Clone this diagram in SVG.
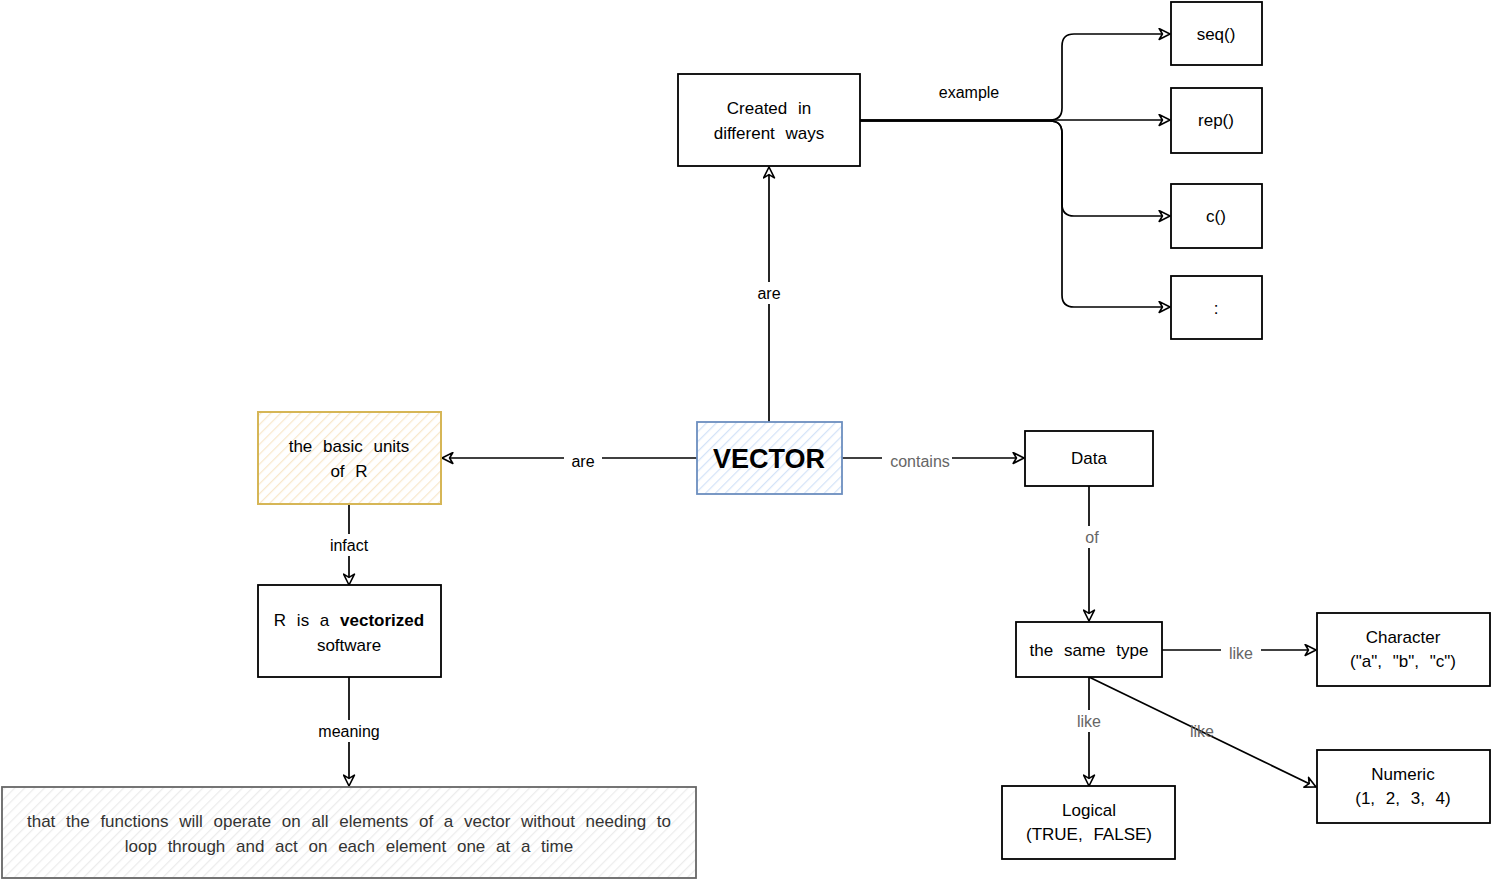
<svg xmlns="http://www.w3.org/2000/svg" width="1493" height="883" viewBox="0 0 1493 883">
<defs>
<style>
.t{font-family:"Liberation Sans",Arial,sans-serif;font-size:17px;fill:#000;text-anchor:middle;word-spacing:6px}
.lbl{font-family:"Liberation Sans",Arial,sans-serif;font-size:16px;fill:#000;text-anchor:middle}
.g{fill:#666}
.box{fill:#fff;stroke:#000;stroke-width:1.8}
.c{fill:none;stroke:#000;stroke-width:1.7}
.lb{fill:#fff}
</style>
<pattern id="hb" width="7" height="7" patternUnits="userSpaceOnUse" patternTransform="rotate(45)">
<rect width="7" height="7" fill="#fff"/><line x1="0" y1="0" x2="0" y2="7" stroke="#d4e3f8" stroke-width="2.5"/>
</pattern>
<pattern id="hy" width="7" height="7" patternUnits="userSpaceOnUse" patternTransform="rotate(45)">
<rect width="7" height="7" fill="#fff"/><line x1="0" y1="0" x2="0" y2="7" stroke="#f8e8cc" stroke-width="2.5"/>
</pattern>
<pattern id="hg" width="7" height="7" patternUnits="userSpaceOnUse" patternTransform="rotate(45)">
<rect width="7" height="7" fill="#fff"/><line x1="0" y1="0" x2="0" y2="7" stroke="#ececec" stroke-width="2.5"/>
</pattern>
<marker id="a" viewBox="0 0 12 12" refX="11" refY="6" markerWidth="13" markerHeight="13" markerUnits="userSpaceOnUse" orient="auto">
<path d="M1,1 L11,6 L1,11 L4,6 Z" fill="#fff" stroke="#000" stroke-width="1.5" stroke-linejoin="round"/>
</marker>
</defs>
<rect width="1493" height="883" fill="#fff"/>

<g id="connectors">
<path class="c" d="M769,422 L769,167" marker-end="url(#a)"/>
<path class="c" d="M860,120 L1050,120 Q1062,120 1062,108 L1062,46 Q1062,34 1074,34 L1170,34" marker-end="url(#a)"/>
<path class="c" d="M860,120 L1170,120" marker-end="url(#a)"/>
<path class="c" d="M860,121 L1050,121 Q1062,121 1062,133 L1062,204 Q1062,216 1074,216 L1170,216" marker-end="url(#a)"/>
<path class="c" d="M860,121 L1050,121 Q1062,121 1062,133 L1062,295 Q1062,307 1074,307 L1170,307" marker-end="url(#a)"/>
<path class="c" d="M697,458 L442,458" marker-end="url(#a)"/>
<path class="c" d="M842,458 L1024,458" marker-end="url(#a)"/>
<path class="c" d="M1089,486 L1089,621" marker-end="url(#a)"/>
<path class="c" d="M1162,650 L1316,650" marker-end="url(#a)"/>
<path class="c" d="M1089,677 L1089,786" marker-end="url(#a)"/>
<path class="c" d="M1089,677 L1316,787" marker-end="url(#a)"/>
<path class="c" d="M349,504 L349,585" marker-end="url(#a)"/>
<path class="c" d="M349,677 L349,786" marker-end="url(#a)"/>
<rect class="lb" x="754" y="282" width="30" height="22"/>
<text class="lbl" x="769" y="299">are</text>
<text class="lbl" x="969" y="98">example</text>
<rect class="lb" x="564" y="450" width="38" height="22"/>
<text class="lbl" x="583" y="467">are</text>
<rect class="lb" x="882" y="450" width="70" height="22"/>
<text class="lbl g" x="920" y="467">contains</text>
<rect class="lb" x="1080" y="526" width="22" height="22"/>
<text class="lbl g" x="1092" y="543">of</text>
<rect class="lb" x="1221" y="642" width="40" height="22"/>
<text class="lbl g" x="1241" y="659">like</text>
<rect class="lb" x="1071" y="710" width="36" height="22"/>
<text class="lbl g" x="1089" y="727">like</text>
<text class="lbl g" x="1202" y="737">like</text>
<rect class="lb" x="325" y="534" width="48" height="22"/>
<text class="lbl" x="349" y="551">infact</text>
<rect class="lb" x="314" y="720" width="70" height="22"/>
<text class="lbl" x="349" y="737">meaning</text>
</g>

<g id="created">
<rect class="box" x="678" y="74" width="182" height="92"/>
<text class="t" x="769" y="114">Created in</text>
<text class="t" x="769" y="139">different ways</text>
</g>
<g id="seq"><rect class="box" x="1171" y="2" width="91" height="63"/><text class="t" x="1216" y="40">seq()</text></g>
<g id="rep"><rect class="box" x="1171" y="88" width="91" height="65"/><text class="t" x="1216" y="126">rep()</text></g>
<g id="cfun"><rect class="box" x="1171" y="184" width="91" height="64"/><text class="t" x="1216" y="222">c()</text></g>
<g id="colon"><rect class="box" x="1171" y="276" width="91" height="63"/><text class="t" x="1216" y="314">:</text></g>

<g id="vector">
<rect x="697" y="422" width="145" height="72" fill="url(#hb)" stroke="#6c8ebf" stroke-width="1.8"/>
<text x="769" y="468" text-anchor="middle" font-family="Liberation Sans, Arial, sans-serif" font-size="27" font-weight="bold">VECTOR</text>
</g>

<g id="basic">
<rect x="258" y="412" width="183" height="92" fill="url(#hy)" stroke="#d6b656" stroke-width="2"/>
<text class="t" x="349" y="452">the basic units</text>
<text class="t" x="349" y="477">of R</text>
</g>

<g id="vectorized">
<rect class="box" x="258" y="585" width="183" height="92"/>
<text class="t" x="349" y="626">R is a <tspan font-weight="bold">vectorized</tspan></text>
<text class="t" x="349" y="651">software</text>
</g>

<g id="meaningbox">
<rect x="2" y="787" width="694" height="91" fill="url(#hg)" stroke="#666" stroke-width="1.8"/>
<text class="t" x="349" y="827" style="fill:#333">that the functions will operate on all elements of a vector without needing to</text>
<text class="t" x="349" y="852" style="fill:#333">loop through and act on each element one at a time</text>
</g>

<g id="data"><rect class="box" x="1025" y="431" width="128" height="55"/><text class="t" x="1089" y="464">Data</text></g>
<g id="sametype"><rect class="box" x="1016" y="622" width="146" height="55"/><text class="t" x="1089" y="656">the same type</text></g>
<g id="character">
<rect class="box" x="1317" y="613" width="173" height="73"/>
<text class="t" x="1403" y="643">Character</text>
<text class="t" x="1403" y="667">("a", "b", "c")</text>
</g>
<g id="numeric">
<rect class="box" x="1317" y="750" width="173" height="73"/>
<text class="t" x="1403" y="780">Numeric</text>
<text class="t" x="1403" y="804">(1, 2, 3, 4)</text>
</g>
<g id="logical">
<rect class="box" x="1002" y="786" width="173" height="73"/>
<text class="t" x="1089" y="816">Logical</text>
<text class="t" x="1089" y="840">(TRUE, FALSE)</text>
</g>
</svg>
